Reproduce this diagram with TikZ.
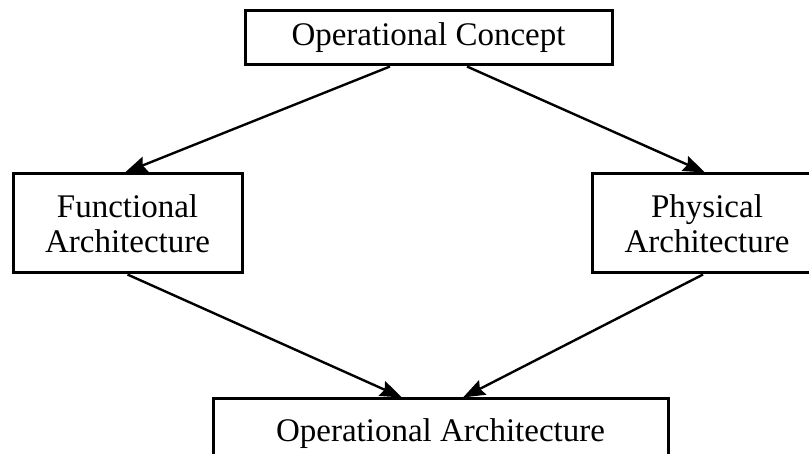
\documentclass[tikz,border=0pt]{standalone}
\usepackage{fontspec}
\setmainfont{Liberation Serif}
\usetikzlibrary{arrows.meta}
\begin{document}
\begin{tikzpicture}[x=1pt,y=-1pt,
	box/.style={draw,line width=3pt,align=center,inner sep=0pt,font=\fontsize{33}{35}\selectfont},
	link/.style={line width=2.4pt,-{Stealth[length=22pt,width=16pt,inset=3pt]}}]
	\useasboundingbox (0,0) rectangle (809,454);
	\node[box,minimum width=367pt,minimum height=54pt] (concept) at (428.5,38) {Operational Concept};
	\node[box,minimum width=229pt,minimum height=99pt] (functional) at (127.5,223.5) {Functional\\Architecture};
	\node[box,minimum width=230pt,minimum height=99pt] (physical) at (707,223.5) {Physical\\Architecture};
	\node[box,minimum width=455pt,minimum height=70pt] (operational) at (440.5,434) {Operational Architecture};
	\draw[link] ([xshift=-38.5pt]concept.south) -- ([xshift=-2.5pt]functional.north);
	\draw[link] ([xshift=38.5pt]concept.south) -- ([xshift=-2pt]physical.north);
	\draw[link] (functional.south) -- ([xshift=-38.5pt]operational.north);
	\draw[link] ([xshift=-4pt]physical.south) -- ([xshift=22.5pt]operational.north);
\end{tikzpicture}
\end{document}
